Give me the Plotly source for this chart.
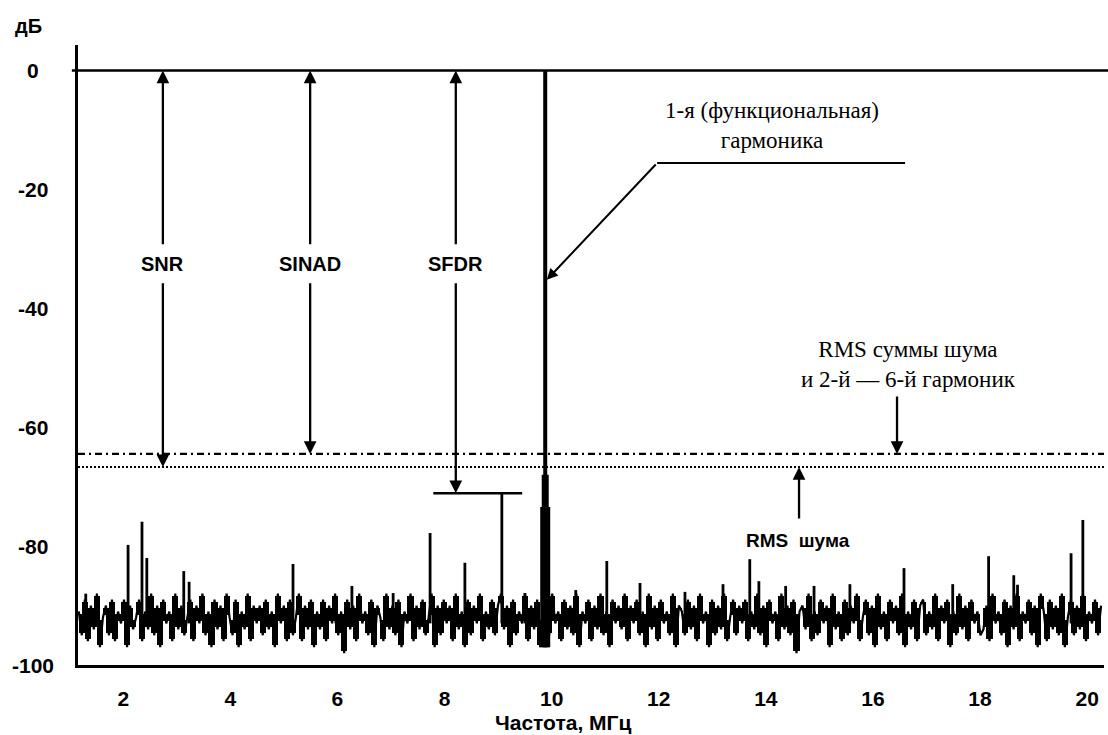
import numpy as np
import plotly.graph_objects as go

# ---------------- data ----------------
X_TICKS = [2, 4, 6, 8, 10, 12, 14, 16, 18, 20]
Y_TICKS = [0, -20, -40, -60, -80, -100]
Y_TICK_TEXT = ["0", "-20", "-40", "-60", "-80", "-100"]

F_START = 1.17
F_STOP = 20.26

NOISE_DB = [
    -91, -95, -89, -96, -90, -94, -88, -97, -92, -90, -95, -89, -96, -91, -93, -89, -97, -90, -94, -92,
    -89, -96, -91, -94, -88, -95, -90, -97, -89, -93, -91, -96, -88, -94, -90, -95, -92, -89, -96, -90,
    -93, -88, -95, -91, -97, -89, -94, -90, -96, -88, -92, -95, -89, -97, -91, -94, -88, -96, -90, -93,
    -90, -95, -89, -94, -91, -97, -88, -93, -90, -96, -89, -95, -92, -88, -96, -90, -94, -89, -97, -91,
    -94, -89, -96, -90, -93, -88, -95, -91, -98, -89, -94, -90, -96, -88, -93, -91, -95, -89, -97, -90,
    -92, -96, -88, -94, -90, -95, -89, -97, -91, -93, -88, -96, -90, -94, -89, -95, -92, -88, -97, -90,
    -95, -89, -93, -90, -96, -88, -94, -91, -97, -89, -95, -90, -93, -88, -96, -91, -94, -89, -95, -90,
    -88, -94, -90, -97, -89, -95, -91, -93, -88, -96, -90, -94, -89, -97, -92, -90, -95, -88, -93, -91,
    -96, -89, -94, -90, -95, -88, -97, -91, -93, -89, -96, -90, -94, -88, -95, -91, -97, -89, -93, -90,
    -94, -88, -96, -90, -93, -89, -95, -91, -97, -88, -94, -90, -96, -89, -93, -91, -95, -88, -97, -90,
    -91, -95, -89, -94, -90, -96, -88, -93, -91, -97, -89, -95, -90, -94, -88, -96, -92, -89, -95, -90,
    -93, -89, -96, -91, -94, -88, -95, -90, -97, -89, -93, -91, -96, -88, -94, -90, -95, -89, -98, -91,
    -90, -94, -88, -96, -91, -95, -89, -93, -90, -97, -88, -94, -91, -96, -89, -95, -90, -93, -88, -96,
    -92, -89, -95, -90, -97, -88, -94, -91, -96, -89, -93, -90, -95, -88, -97, -91, -94, -89, -96, -90,
    -89, -95, -91, -94, -88, -96, -90, -93, -89, -97, -91, -95, -88, -94, -90, -96, -89, -93, -91, -95,
    -94, -90, -96, -88, -93, -91, -95, -89, -97, -90, -94, -88, -96, -91, -93, -89, -95, -90, -97, -88,
    -91, -96, -89, -94, -90, -95, -88, -97, -92, -89, -95, -90, -94, -88, -96, -91, -93, -89, -95, -90,
]

# spurs / harmonics above the noise floor
SPIKE_F = [1.30, 2.09, 2.35, 2.44, 3.13, 3.23, 5.17, 5.97, 6.27, 7.04, 7.73, 8.38, 9.07, 9.50,
           10.45, 11.03, 11.65, 12.49, 13.20, 13.70, 13.87, 14.37, 14.90, 15.57, 16.58, 17.49,
           18.16, 18.63, 18.70, 19.70, 19.92]
SPIKE_DB = [-88.0, -79.8, -75.9, -82.0, -84.2, -86.0, -83.0, -88.4, -86.7, -87.9, -77.8, -82.8, -71.1, -87.9,
            -87.4, -82.5, -86.2, -87.7, -86.4, -82.2, -85.9, -86.7, -86.7, -86.4, -83.7, -86.4,
            -81.7, -84.9, -86.5, -81.2, -75.6]

FUND_F = 9.88          # 1st (fundamental) harmonic
FUND_DB = 0.0
FUND_SKIRT_DB = [-68.0, -73.4]

RMS_NOISE_DB = -66.7          # RMS noise
RMS_NOISE_HARM_DB = -64.5     # RMS noise + 2..6 harmonics
SFDR_DB = -71.1
SFDR_BAR_F = [7.79, 9.45]

MEAS_NAMES = ["SNR", "SINAD", "SFDR"]
MEAS_F = [2.74, 5.49, 8.21]
MEAS_BOTTOM_DB = [RMS_NOISE_DB, RMS_NOISE_HARM_DB, SFDR_DB]

# ---------------- figure ----------------
X_RANGE = [1.155, 20.315]
Y_RANGE = [-100, 4.3]

fig = go.Figure()

noise_f = np.linspace(F_START, F_STOP, len(NOISE_DB))
nd = np.array(NOISE_DB, dtype=float)
# solid band between neighbouring bins (as the dense trace looks on the display)
lo = np.minimum(nd[:-1], nd[1:])
hi = np.maximum(nd[:-1], nd[1:])
mid_f = (noise_f[:-1] + noise_f[1:]) / 2
step = noise_f[1] - noise_f[0]
fig.add_trace(go.Bar(x=mid_f, base=lo + 0.4, y=(hi - lo) - 0.8, width=step,
                     marker=dict(color="black", line=dict(width=0)), hoverinfo="skip"))
fig.add_trace(go.Scatter(x=noise_f, y=NOISE_DB, mode="lines",
                         line=dict(color="black", width=2.2), hoverinfo="skip"))

sx, sy = [], []
for f, d in zip(SPIKE_F, SPIKE_DB):
    sx += [f, f, None]
    sy += [-93, d, None]
fig.add_trace(go.Scatter(x=sx, y=sy, mode="lines",
                         line=dict(color="black", width=2.8), hoverinfo="skip"))

# fundamental
fig.add_trace(go.Scatter(x=[FUND_F, FUND_F], y=[-97, FUND_DB], mode="lines",
                         line=dict(color="black", width=4)))
fig.add_trace(go.Scatter(x=[FUND_F, FUND_F], y=[-97, FUND_SKIRT_DB[0]], mode="lines",
                         line=dict(color="black", width=7)))
fig.add_trace(go.Scatter(x=[FUND_F, FUND_F], y=[-97, FUND_SKIRT_DB[1]], mode="lines",
                         line=dict(color="black", width=10)))

# RMS levels
fig.add_trace(go.Scatter(x=X_RANGE, y=[RMS_NOISE_HARM_DB] * 2, mode="lines",
                         line=dict(color="black", width=2.2, dash="7px,4px,2px,4px")))
fig.add_trace(go.Scatter(x=X_RANGE, y=[RMS_NOISE_DB] * 2, mode="lines",
                         line=dict(color="black", width=2, dash="2px,2px")))

# SFDR bar
fig.add_trace(go.Scatter(x=SFDR_BAR_F, y=[SFDR_DB] * 2, mode="lines",
                         line=dict(color="black", width=2.5)))

# 0 dB reference line
fig.add_shape(type="line", xref="paper", yref="y", x0=-0.006, x1=1.004, y0=0, y1=0,
              line=dict(color="black", width=2.5))

bold = dict(family="Liberation Sans, Arial, sans-serif", size=20, color="black", weight="bold")
serif = dict(family="Liberation Serif, DejaVu Serif, serif", size=23, color="black")

anns = []
for name, f, bot in zip(MEAS_NAMES, MEAS_F, MEAS_BOTTOM_DB):
    mid = -32.5
    anns.append(dict(x=f, y=bot, ax=f, ay=mid, xref="x", yref="y", axref="x", ayref="y",
                     text=name, font=dict(bold, color="rgba(0,0,0,0)"), showarrow=True,
                     arrowhead=2, arrowsize=1.1, arrowwidth=2.3, arrowcolor="black", borderpad=8))
    anns.append(dict(x=f, y=FUND_DB, ax=f, ay=mid, xref="x", yref="y", axref="x", ayref="y",
                     text=name, font=bold, showarrow=True,
                     arrowhead=2, arrowsize=1.1, arrowwidth=2.3, arrowcolor="black", borderpad=8))

# fundamental label with leader
anns.append(dict(x=14.12, y=-9.3, xref="x", yref="y", text="1-я (функциональная)<br>гармоника",
                 showarrow=False, font=serif, align="center"))
fig.add_shape(type="line", xref="x", yref="y", x0=11.97, x1=16.6, y0=-15.55, y1=-15.55,
              line=dict(color="black", width=2))
anns.append(dict(x=FUND_F + 0.03, y=-35.2, ax=11.97, ay=-15.55, xref="x", yref="y",
                 axref="x", ayref="y", text="", showarrow=True, arrowhead=2, arrowsize=1.1,
                 arrowwidth=2, arrowcolor="black"))

# RMS labels
anns.append(dict(x=16.66, y=-49.5, xref="x", yref="y",
                 text="RMS суммы шума<br>и 2-й — 6-й гармоник",
                 showarrow=False, font=serif, align="center"))
anns.append(dict(x=16.45, y=RMS_NOISE_HARM_DB, ax=16.45, ay=-54.6, xref="x", yref="y",
                 axref="x", ayref="y", text="", showarrow=True, arrowhead=2, arrowsize=1.1,
                 arrowwidth=2.3, arrowcolor="black"))
anns.append(dict(x=14.62, y=RMS_NOISE_DB, ax=14.62, ay=-75.6, xref="x", yref="y",
                 axref="x", ayref="y", text="", showarrow=True, arrowhead=2, arrowsize=1.1,
                 arrowwidth=2.3, arrowcolor="black"))
anns.append(dict(x=14.60, y=-79.1, xref="x", yref="y", text="RMS&nbsp;&nbsp;шума",
                 showarrow=False, font=dict(bold, size=19)))

# y tick labels (centred, as in the reference)
for v, t in zip(Y_TICKS, Y_TICK_TEXT):
    anns.append(dict(x=-0.0439, y=v, xref="paper", yref="y", text=t, showarrow=False,
                     xanchor="center", yanchor="middle", font=dict(bold, size=21)))

anns.append(dict(x=-0.0478, y=1.0306, xref="paper", yref="paper", text="дБ", showarrow=False,
                 xanchor="center", yanchor="middle", font=dict(bold, size=20)))
anns.append(dict(x=0.4727, y=-0.0935, xref="paper", yref="paper", text="Частота, МГц",
                 showarrow=False, xanchor="center", yanchor="middle", font=dict(bold, size=21)))

fig.update_layout(
    width=1108, height=735,
    margin=dict(l=78, r=4, t=45, b=70),
    paper_bgcolor="white", plot_bgcolor="white",
    showlegend=False, bargap=0,
    annotations=anns,
    xaxis=dict(range=X_RANGE, tickvals=X_TICKS, ticktext=[str(v) for v in X_TICKS],
               showgrid=False, zeroline=False, showline=True, linecolor="black", linewidth=3,
               ticks="", tickfont=dict(bold, size=21), ticklabelstandoff=13),
    yaxis=dict(range=Y_RANGE, tickvals=Y_TICKS, showticklabels=False,
               showgrid=False, zeroline=False, showline=True, linecolor="black", linewidth=2.5,
               ticks=""),
)

fig.write_html("out.html")
